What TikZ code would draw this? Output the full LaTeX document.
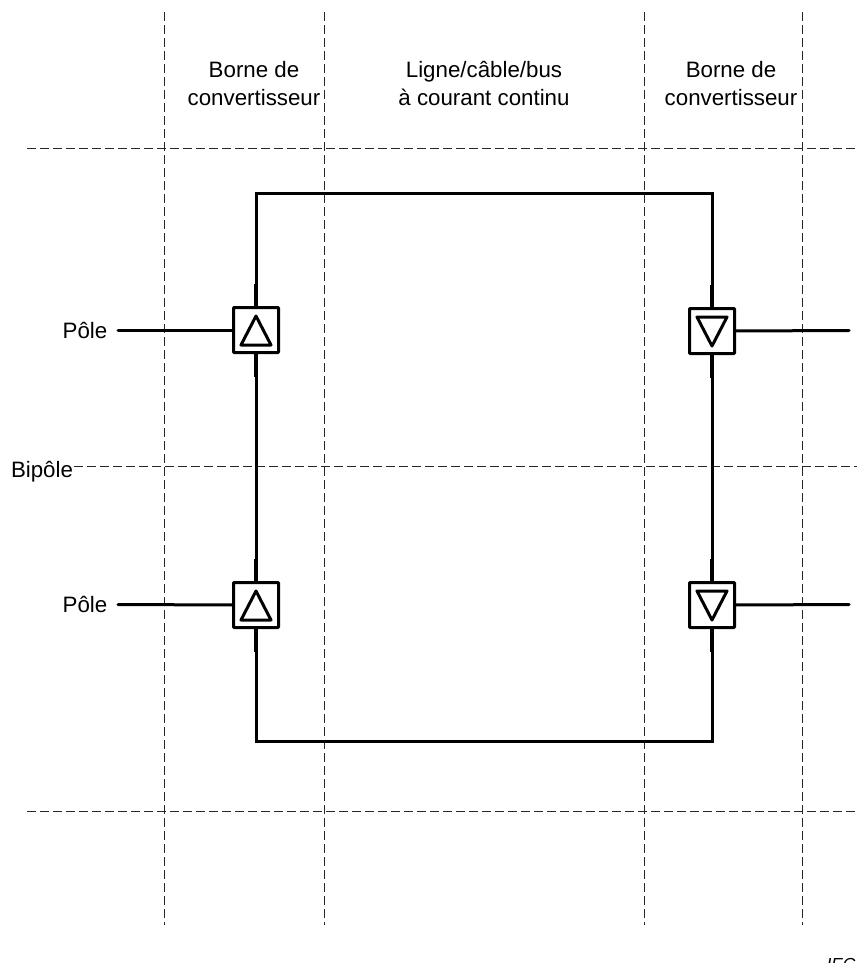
\documentclass[tikz,border=0pt]{standalone}
\usepackage{fontspec}
\setmainfont{Liberation Sans}
\newcommand{\lblfont}{\fontsize{22.3}{28}\selectfont}
\newcommand{\iecfont}{\fontsize{17.4}{20}\selectfont\itshape}
\tikzset{
  guide/.style={draw=black!85,line width=1pt,dash pattern=on 9pt off 4pt},
  wire/.style={draw=black,line width=3pt,line cap=round,line join=miter},
  stub/.style={draw=black,line width=4pt},
  conv/.style={draw=black,line width=3pt,fill=white,rounded corners=0.8pt,minimum size=45pt,inner sep=0pt,outer sep=0pt,rectangle},
  tri/.style={draw=black,line width=3pt,line join=round},
  lbl/.style={font=\lblfont,anchor=base,inner sep=0pt,align=center},
  pt/.style={inner sep=0pt,minimum size=0pt}
}
\begin{document}
\begin{tikzpicture}[x=1pt,y=-1pt]
\useasboundingbox (0,0) rectangle (858,963);
% guide end points
\coordinate (v1t) at (164,12); \coordinate (v1b) at (164,925);
\coordinate (v2t) at (324,12); \coordinate (v2b) at (324,925);
\coordinate (v3t) at (644,12); \coordinate (v3b) at (644,925);
\coordinate (v4t) at (802,12); \coordinate (v4b) at (802,925);
\coordinate (h1l) at (27,148);  \coordinate (h1r) at (857,148);
\coordinate (h2l) at (74,466);  \coordinate (h2r) at (857,466);
\coordinate (h3l) at (27,811);  \coordinate (h3r) at (857,811);
\draw[guide] (v1t) -- (v1b);
\draw[guide] (v2t) -- (v2b);
\draw[guide] (v3t) -- (v3b);
\draw[guide] (v4t) -- (v4b);
\draw[guide] (h1l) -- (h1r);
\draw[guide] (h2l) -- (h2r);
\draw[guide] (h3l) -- (h3r);
% corners and free ends
\coordinate (tl) at (256,193); \coordinate (tr) at (712,193);
\coordinate (bl) at (256,741); \coordinate (br) at (712,741);
\coordinate (e1) at (118,330); \coordinate (e2) at (118,604.5);
\coordinate (e3) at (849,330.5); \coordinate (e4) at (849,604.5);
% converters
\node[conv] (a) at (256,330) {};
\node[conv] (b) at (256,605) {};
\node[conv] (c) at (712,331) {};
\node[conv] (d) at (712,605) {};
% wires
\draw[wire] (a.north) -- (tl) -- (tr) -- (c.north);
\draw[wire] (b.south) -- (bl) -- (br) -- (d.south);
\draw[wire] (a.south) -- (b.north);
\draw[wire] (c.south) -- (d.north);
\draw[wire] (e1) -- (a.west);
\draw[wire] (e2) -- (b.west);
\draw[wire] (c.east) -- (e3);
\draw[wire] (d.east) -- (e4);
% heavier stubs at the converters
\foreach \n in {a,b,c,d}{
  \draw[stub] (\n.north) -- ++(0,-24);
  \draw[stub] (\n.south) -- ++(0,24);
}
% triangles
\foreach \n in {a,b}{
  \draw[tri] ([yshift=14pt]\n.center) -- ([xshift=-15pt,yshift=-15pt]\n.center) -- ([xshift=15pt,yshift=-15pt]\n.center) -- cycle;
}
\foreach \n in {c,d}{
  \draw[tri] ([yshift=-15pt]\n.center) -- ([xshift=-15pt,yshift=14pt]\n.center) -- ([xshift=15pt,yshift=14pt]\n.center) -- cycle;
}
% labels
\node[lbl] (t1a) at (254,78) {Borne de};
\node[lbl] (t1b) at (254,106) {convertisseur};
\node[lbl] (t2a) at (484,78) {Ligne/câble/bus};
\node[lbl] (t2b) at (484,106) {à courant continu};
\node[lbl] (t3a) at (731,78) {Borne de};
\node[lbl] (t3b) at (731,106) {convertisseur};
\node[lbl] (p1) at (85,338) {Pôle};
\node[lbl] (p2) at (85,612) {Pôle};
\node[lbl] (bp) at (42,477) {Bipôle};
\node[inner sep=0pt,anchor=base,font=\iecfont] (iec) at (841,970) {IEC};
\end{tikzpicture}
\end{document}
